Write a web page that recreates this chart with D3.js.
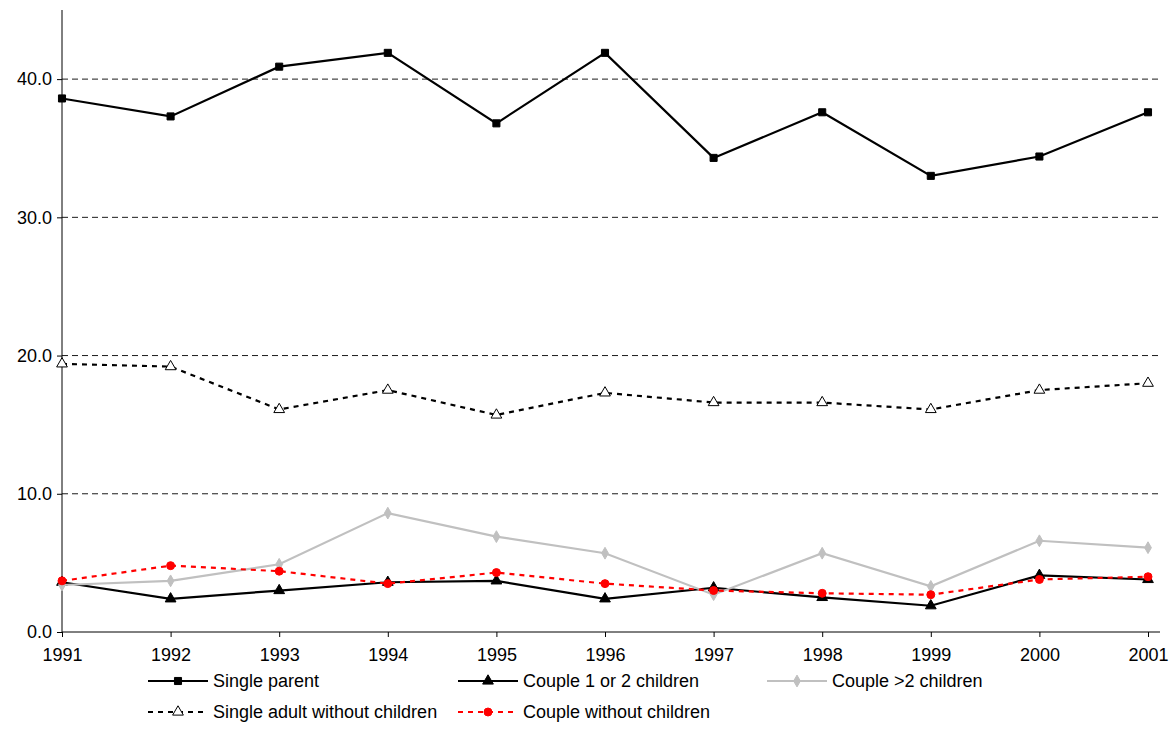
<!DOCTYPE html>
<html><head><meta charset="utf-8">
<script src="https://d3js.org/d3.v7.min.js"></script>
<style>body{margin:0;background:#fff;font-family:"Liberation Sans",Arial,sans-serif}</style>
</head><body><svg id="c" width="1176" height="753"></svg>
<script>
// datos
var years = [1991,1992,1993,1994,1995,1996,1997,1998,1999,2000,2001];
var singleParent = [38.6,37.3,40.9,41.9,36.8,41.9,34.3,37.6,33.0,34.4,37.6];
var couple12 = [3.6,2.4,3.0,3.6,3.7,2.4,3.2,2.5,1.9,4.1,3.8];
var coupleMore = [3.4,3.7,4.9,8.6,6.9,5.7,2.7,5.7,3.3,6.6,6.1];
var singleAdult = [19.4,19.2,16.1,17.5,15.7,17.3,16.6,16.6,16.1,17.5,18.0];
var coupleNone = [3.7,4.8,4.4,3.5,4.3,3.5,3.0,2.8,2.7,3.8,4.0];
var yTicks = [0,10,20,30,40];

var svg = d3.select("#c");
var x = d3.scaleLinear().domain([1991,2001]).range([62,1148]);
var y = d3.scaleLinear().domain([0,45]).range([632,10]);
var FS = 18;

// rejilla
svg.selectAll(".g").data(yTicks.slice(1)).enter().append("line")
  .attr("x1",62).attr("x2",1160).attr("y1",d=>y(d)).attr("y2",d=>y(d))
  .attr("stroke","#000").attr("stroke-dasharray","6,4").attr("stroke-width",0.9);

var ya = svg.append("g").attr("transform","translate(62,0)")
  .call(d3.axisLeft(y).tickValues(yTicks).tickFormat(d3.format(".1f")).tickSize(5));
ya.select(".domain").attr("d","M0,"+y(45)+"V"+y(0));
var xa = svg.append("g").attr("transform","translate(0,632)")
  .call(d3.axisBottom(x).tickValues(years).tickFormat(d3.format("d")).tickSize(5));
xa.select(".domain").attr("d","M62,0H1160");
svg.selectAll(".tick text").attr("font-size",FS).attr("font-family","Liberation Sans");
ya.selectAll(".tick text").attr("x",-10);
xa.selectAll(".tick text").attr("y",16);

var series = [
 {name:"Single parent", v:singleParent, color:"#000", dash:null, w:2.2, m:"square", fill:"#000"},
 {name:"Couple 1 or 2 children", v:couple12, color:"#000", dash:null, w:2.2, m:"triangle", fill:"#000"},
 {name:"Couple >2 children", v:coupleMore, color:"#c0c0c0", dash:null, w:2.2, m:"diamond", fill:"#c0c0c0"},
 {name:"Single adult without children", v:singleAdult, color:"#000", dash:"5,5", w:2.2, m:"triangle", fill:"#fff"},
 {name:"Couple without children", v:coupleNone, color:"#ff0000", dash:"5,5", w:2.2, m:"circle", fill:"#ff0000"}
];
var sym = {square:d3.symbolSquare, triangle:d3.symbolTriangle, diamond:d3.symbolDiamond, circle:d3.symbolCircle};
var line = d3.line().x((d,i)=>x(years[i])).y(d=>y(d));

function marker(g, s, cx, cy){
  g.append("path").attr("d", d3.symbol().type(sym[s.m]).size(s.m=="diamond"?40:50)())
   .attr("transform","translate("+cx+","+cy+")")
   .attr("fill", s.fill).attr("stroke", s.m=="triangle"&&s.fill=="#fff"?"#000":s.fill).attr("stroke-width",1);
}

series.forEach(function(s){
  svg.append("path").datum(s.v).attr("d",line).attr("fill","none")
    .attr("stroke",s.color).attr("stroke-width",s.w).attr("stroke-dasharray",s.dash);
  var g = svg.append("g");
  s.v.forEach((d,i)=>marker(g,s,x(years[i]),y(d)));
});

// leyenda
var legPos = [[148,681],[458,681],[767,681],[148,712],[458,712]];
series.forEach(function(s,i){
  var p = legPos[i], g = svg.append("g");
  g.append("line").attr("x1",p[0]).attr("x2",p[0]+60).attr("y1",p[1]).attr("y2",p[1])
   .attr("stroke",s.color).attr("stroke-width",s.w).attr("stroke-dasharray",s.dash);
  marker(g,s,p[0]+30,p[1]);
  g.append("text").attr("x",p[0]+65).attr("y",p[1]+6).attr("font-size",FS).text(s.name);
});
</script></body></html>
